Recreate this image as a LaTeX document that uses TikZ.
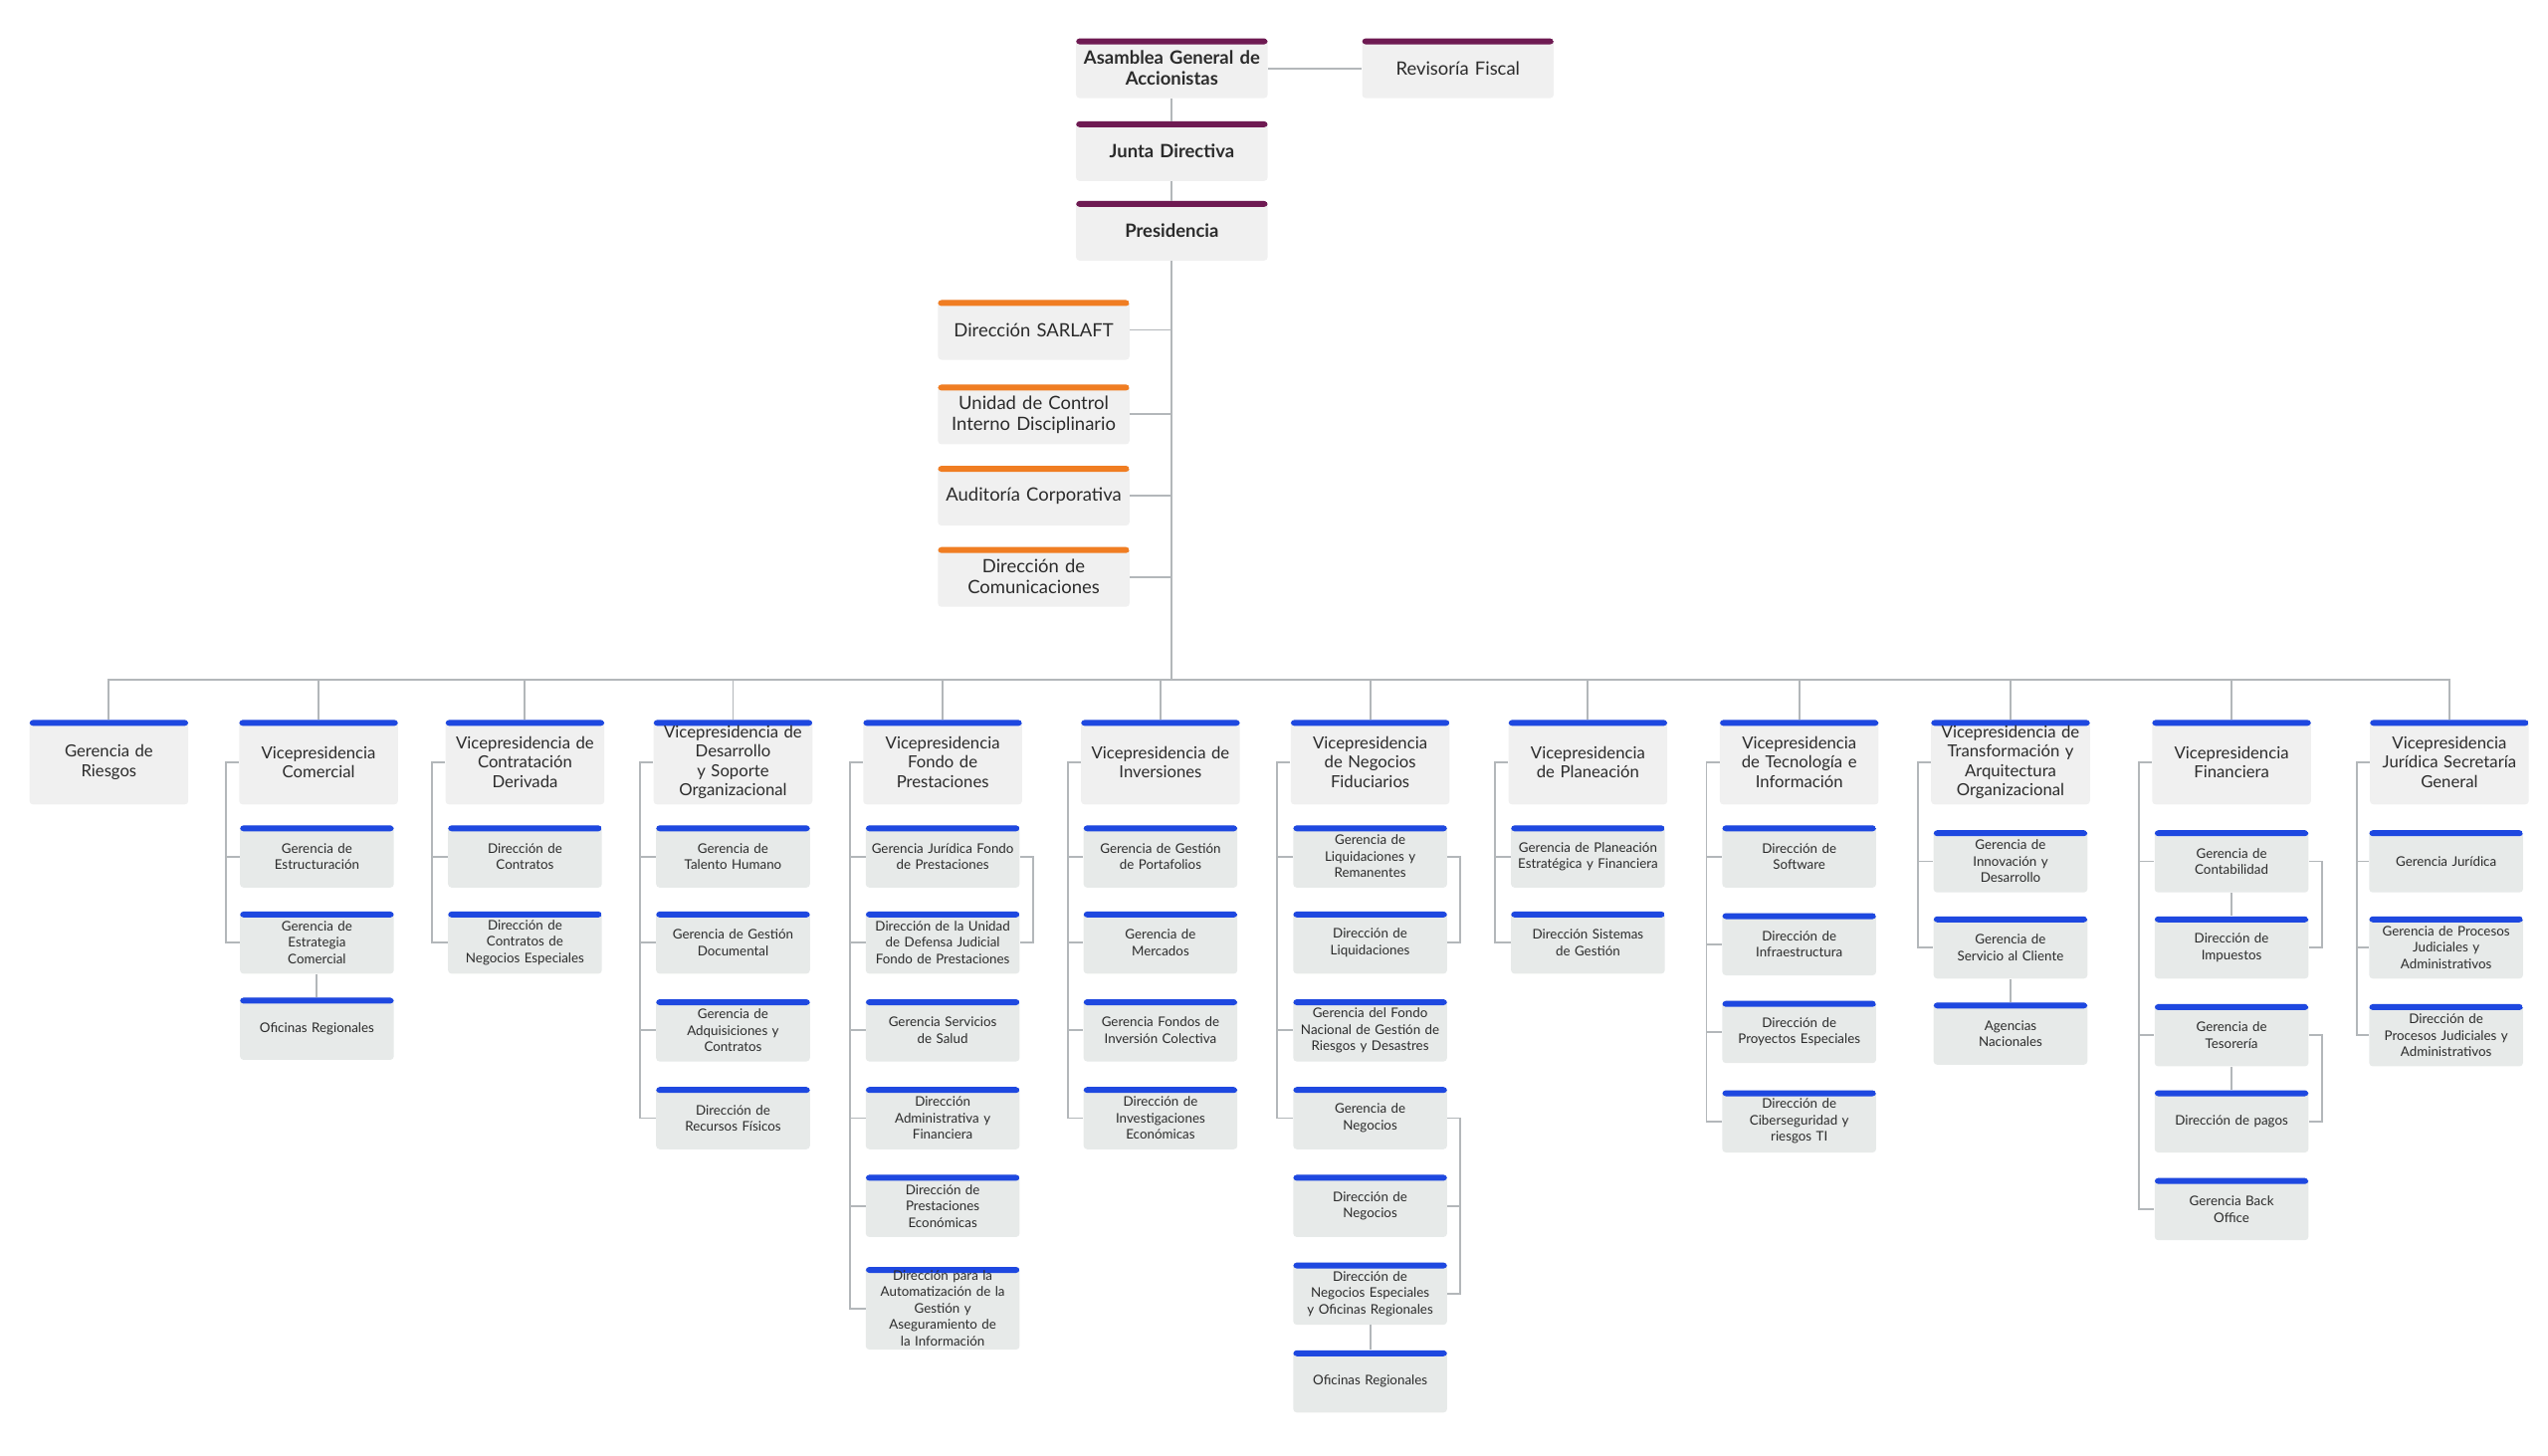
\documentclass[tikz,border=0pt]{standalone}
\usepackage{fontspec}
\setmainfont{Lato}
\usepackage{xcolor}
\usetikzlibrary{positioning}

\definecolor{barpurple}{HTML}{6E1A52}
\definecolor{barorange}{HTML}{F07D22}
\definecolor{barblue}{HTML}{1E48E0}
\definecolor{cardfill}{HTML}{F0F0F0}
\definecolor{subfill}{HTML}{E7EAE9}
\definecolor{linegray}{HTML}{B3B7BA}
\definecolor{txt}{HTML}{2B2B2B}

\begin{document}
\begin{tikzpicture}[
        x=0.03265cm, y=-0.03265cm,
        card/.style={rectangle, rounded corners=2pt, fill=cardfill, align=center, text=txt, inner sep=2pt,
            path picture={\fill[#1] (path picture bounding box.north west) rectangle ([yshift=-0.12cm]path picture bounding box.north east);}},
        topbox/.style={card=barpurple, minimum width=3.85cm, minimum height=1.2cm, text width=3.7cm, font=\fontsize{10.5}{12}\selectfont\bfseries},
        stafbox/.style={card=barorange, minimum width=3.85cm, minimum height=1.2cm, text width=3.7cm, font=\fontsize{10.5}{12}\selectfont},
        head/.style={card=barblue, minimum width=3.15cm, minimum height=1.7cm, text width=3.05cm, font=\fontsize{9.5}{11}\selectfont},
        sub/.style={card=barblue, fill=subfill, minimum width=3.05cm, minimum height=1.25cm, text width=2.95cm, font=\fontsize{7.6}{9.4}\selectfont},
        line/.style={draw=linegray, line width=1.1pt}
    ]
        \useasboundingbox (0,0) rectangle (1567.7,895.9);

        % top of the chart
        \node[topbox] (asamblea) at (721,42) {Asamblea General de\\Accionistas};
        \node[topbox, font=\fontsize{10.5}{12}\selectfont] (revisoria) at (897,42) {Revisoría Fiscal};
        \node[topbox] (junta) at (721,93) {Junta Directiva};
        \node[topbox] (pres) at (721,142) {Presidencia};

        \node[stafbox] (sarlaft) at (636,203) {Dirección SARLAFT};
        \node[stafbox] (control) at (636,255) {Unidad de Control\\Interno Disciplinario};
        \node[stafbox] (auditoria) at (636,305) {Auditoría Corporativa};
        \node[stafbox] (comunic) at (636,355) {Dirección de\\Comunicaciones};

        \draw[line] (asamblea) -- (revisoria);
        \draw[line] (asamblea) -- (junta);
        \draw[line] (junta) -- (pres);
        \draw[line] (pres.south) -- (721,418) coordinate (bus);
        \draw[line] (sarlaft.east) -- (sarlaft.east -| bus);
        \draw[line] (control.east) -- (control.east -| bus);
        \draw[line] (auditoria.east) -- (auditoria.east -| bus);
        \draw[line] (comunic.east) -- (comunic.east -| bus);

        % vicepresidencias
        \node[head] (riesgos) at (67,469) {Gerencia de\\Riesgos};
        \node[head] (comercial) at (196,469) {Vicepresidencia\\Comercial};
        \node[head] (contrat) at (323,469) {Vicepresidencia de\\Contratación\\Derivada};
        \node[head] (desarrollo) at (451,469) {Vicepresidencia de\\Desarrollo y Soporte\\Organizacional};
        \node[head] (fondo) at (580,469) {Vicepresidencia\\Fondo de\\Prestaciones};
        \node[head] (invers) at (714,469) {Vicepresidencia de\\Inversiones};
        \node[head] (negocios) at (843,469) {Vicepresidencia\\de Negocios\\Fiduciarios};
        \node[head] (planea) at (977,469) {Vicepresidencia\\de Planeación};
        \node[head] (tecno) at (1107,469) {Vicepresidencia\\de Tecnología e\\Información};
        \node[head] (transf) at (1237,469) {Vicepresidencia de\\Transformación y\\Arquitectura\\Organizacional};
        \node[head] (financ) at (1373,469) {Vicepresidencia\\Financiera};
        \node[head] (juridica) at (1507,469) {Vicepresidencia\\Jurídica Secretaría\\General};

        \draw[line] (riesgos.north) |- (bus);
        \draw[line] (juridica.north) |- (bus);
        \foreach \v in {comercial,contrat,desarrollo,fondo,invers,negocios,planea,tecno,transf,financ}
            \draw[line] (\v.north) |- (bus);

        % comercial
        \node[sub] (com1) at (195,527) {Gerencia de\\Estructuración};
        \node[sub] (com2) at (195,580) {Gerencia de\\Estrategia\\Comercial};
        \node[sub] (com3) at (195,633) {Oficinas Regionales};
        \draw[line] (comercial.west) -- ++(-8,0) coordinate (comS) |- (com2.west);
        \draw[line] (comS) |- (com1.west);
        \draw[line] (com2) -- (com3);

        % contratacion
        \node[sub] (con1) at (323,527) {Dirección de\\Contratos};
        \node[sub] (con2) at (323,580) {Dirección de\\Contratos de\\Negocios Especiales};
        \draw[line] (contrat.west) -- ++(-8,0) coordinate (conS) |- (con2.west);
        \draw[line] (conS) |- (con1.west);

        % desarrollo
        \node[sub] (des1) at (451,527) {Gerencia de\\Talento Humano};
        \node[sub] (des2) at (451,580) {Gerencia de Gestión\\Documental};
        \node[sub] (des3) at (451,634) {Gerencia de\\Adquisiciones y\\Contratos};
        \node[sub] (des4) at (451,688) {Dirección de\\Recursos Físicos};
        \draw[line] (desarrollo.west) -- ++(-8,0) coordinate (desS) |- (des4.west);
        \draw[line] (desS) |- (des1.west);
        \draw[line] (desS) |- (des2.west);
        \draw[line] (desS) |- (des3.west);

        % fondo de prestaciones
        \node[sub] (fon1) at (580,527) {Gerencia Jurídica Fondo\\de Prestaciones};
        \node[sub] (fon2) at (580,580) {Dirección de la Unidad\\de Defensa Judicial\\Fondo de Prestaciones};
        \node[sub] (fon3) at (580,634) {Gerencia Servicios\\de Salud};
        \node[sub] (fon4) at (580,688) {Dirección\\Administrativa y\\Financiera};
        \node[sub] (fon5) at (580,742) {Dirección de\\Prestaciones\\Económicas};
        \node[sub] (fon6) at (580,805) {Dirección para la\\Automatización de la\\Gestión y\\Aseguramiento de\\la Información};
        \draw[line] (fondo.west) -- ++(-8,0) coordinate (fonS) |- (fon6.west);
        \draw[line] (fonS) |- (fon1.west);
        \draw[line] (fonS) |- (fon2.west);
        \draw[line] (fonS) |- (fon3.west);
        \draw[line] (fonS) |- (fon4.west);
        \draw[line] (fonS) |- (fon5.west);
        \draw[line] (fon1.east) -- ++(8,0) |- (fon2.east);

        % inversiones
        \node[sub] (inv1) at (714,527) {Gerencia de Gestión\\de Portafolios};
        \node[sub] (inv2) at (714,580) {Gerencia de\\Mercados};
        \node[sub] (inv3) at (714,634) {Gerencia Fondos de\\Inversión Colectiva};
        \node[sub] (inv4) at (714,688) {Dirección de\\Investigaciones\\Económicas};
        \draw[line] (invers.west) -- ++(-8,0) coordinate (invS) |- (inv4.west);
        \draw[line] (invS) |- (inv1.west);
        \draw[line] (invS) |- (inv2.west);
        \draw[line] (invS) |- (inv3.west);

        % negocios fiduciarios
        \node[sub] (neg1) at (843,527) {Gerencia de\\Liquidaciones y\\Remanentes};
        \node[sub] (neg2) at (843,580) {Dirección de\\Liquidaciones};
        \node[sub] (neg3) at (843,634) {Gerencia del Fondo\\Nacional de Gestión de\\Riesgos y Desastres};
        \node[sub] (neg4) at (843,688) {Gerencia de\\Negocios};
        \node[sub] (neg5) at (843,742) {Dirección de\\Negocios};
        \node[sub] (neg6) at (843,796) {Dirección de\\Negocios Especiales\\y Oficinas Regionales};
        \node[sub] (neg7) at (843,850) {Oficinas Regionales};
        \draw[line] (negocios.west) -- ++(-8,0) coordinate (negS) |- (neg4.west);
        \draw[line] (negS) |- (neg1.west);
        \draw[line] (negS) |- (neg3.west);
        \draw[line] (neg1.east) -- ++(8,0) |- (neg2.east);
        \draw[line] (neg4.east) -- ++(8,0) coordinate (negR) |- (neg6.east);
        \draw[line] (negR) |- (neg5.east);
        \draw[line] (neg6) -- (neg7);

        % planeacion
        \node[sub] (pla1) at (977,527) {Gerencia de Planeación\\Estratégica y Financiera};
        \node[sub] (pla2) at (977,580) {Dirección Sistemas\\de Gestión};
        \draw[line] (planea.west) -- ++(-8,0) coordinate (plaS) |- (pla2.west);
        \draw[line] (plaS) |- (pla1.west);

        % tecnologia
        \node[sub] (tec1) at (1107,527) {Dirección de\\Software};
        \node[sub] (tec2) at (1107,581) {Dirección de\\Infraestructura};
        \node[sub] (tec3) at (1107,635) {Dirección de\\Proyectos Especiales};
        \node[sub] (tec4) at (1107,690) {Dirección de\\Ciberseguridad y\\riesgos TI};
        \draw[line] (tecno.west) -- ++(-8,0) coordinate (tecS) |- (tec4.west);
        \draw[line] (tecS) |- (tec1.west);
        \draw[line] (tecS) |- (tec2.west);
        \draw[line] (tecS) |- (tec3.west);

        % transformacion
        \node[sub] (tra1) at (1237,530) {Gerencia de\\Innovación y\\Desarrollo};
        \node[sub] (tra2) at (1237,583) {Gerencia de\\Servicio al Cliente};
        \node[sub] (tra3) at (1237,636) {Agencias\\Nacionales};
        \draw[line] (transf.west) -- ++(-8,0) coordinate (traS) |- (tra2.west);
        \draw[line] (traS) |- (tra1.west);
        \draw[line] (tra2) -- (tra3);

        % financiera
        \node[sub] (fin1) at (1373,530) {Gerencia de\\Contabilidad};
        \node[sub] (fin2) at (1373,583) {Dirección de\\Impuestos};
        \node[sub] (fin3) at (1373,637) {Gerencia de\\Tesorería};
        \node[sub] (fin4) at (1373,690) {Dirección de pagos};
        \node[sub] (fin5) at (1373,744) {Gerencia Back\\Office};
        \draw[line] (financ.west) -- ++(-8,0) coordinate (finS) |- (fin5.west);
        \draw[line] (finS) |- (fin1.west);
        \draw[line] (finS) |- (fin3.west);
        \draw[line] (fin1) -- (fin2);
        \draw[line] (fin3) -- (fin4);
        \draw[line] (fin1.east) -- ++(8,0) |- (fin2.east);
        \draw[line] (fin3.east) -- ++(8,0) |- (fin4.east);

        % juridica
        \node[sub] (jur1) at (1505,530) {Gerencia Jurídica};
        \node[sub] (jur2) at (1505,583) {Gerencia de Procesos\\Judiciales y\\Administrativos};
        \node[sub] (jur3) at (1505,637) {Dirección de\\Procesos Judiciales y\\Administrativos};
        \draw[line] (juridica.west) -- ++(-8,0) coordinate (jurS) |- (jur3.west);
        \draw[line] (jurS) |- (jur1.west);
        \draw[line] (jurS) |- (jur2.west);
    \end{tikzpicture}
\end{document}
